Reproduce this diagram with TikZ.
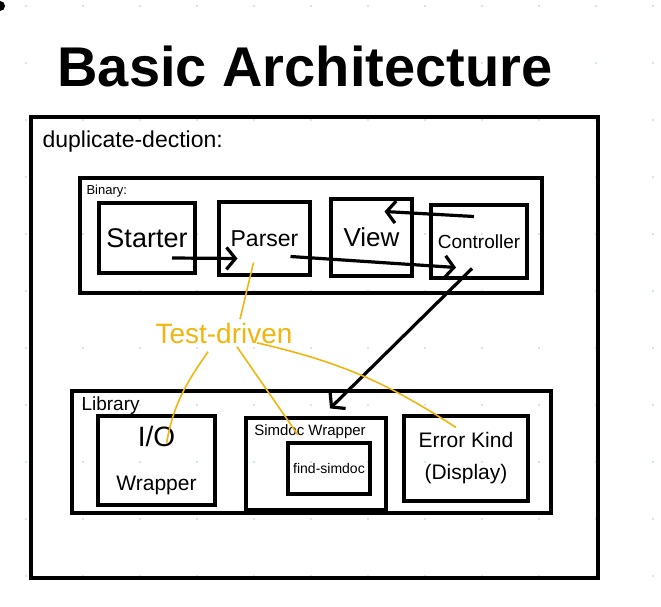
\documentclass[tikz,border=0pt]{standalone}
\usepackage{fontspec}
\setmainfont{Liberation Sans}
\usetikzlibrary{arrows.meta}
\definecolor{naranja}{HTML}{F2B50F}
\definecolor{punto}{HTML}{D3E2F4}

\begin{document}
\begin{tikzpicture}[x=1pt,y=-1pt,
    caja/.style={draw,line width=3.2pt,inner sep=0pt},
    flecha/.style={line width=3.2pt,-{Straight Barb[length=9pt,width=22pt]}},
    prueba/.style={draw=naranja,line width=1.6pt}]

    \def\tam#1{\fontsize{#1}{#1}\selectfont}

    % Fondo y retícula de puntos
    \useasboundingbox (0,0) rectangle (661,607);
    \foreach \i in {0,...,11}
      \foreach \j in {0,...,10}
        \fill[punto] ({26+57*\i},{6+57*\j}) circle (1.3);
    \fill (0,6) circle (5);

    % Título
    \node[font=\bfseries\tam{56}] (titulo) at (305,66) {Basic Architecture};

    % Caja exterior
    \node[caja,minimum width=567pt,minimum height=461pt] (exterior) at (314.5,347.5) {};
    \node[anchor=west,font=\tam{23}] (nombre) at (39,142) {duplicate-dection:};

    % Binario
    \node[caja,minimum width=462pt,minimum height=115pt] (binario) at (311,235.5) {};
    \node[anchor=west,font=\tam{13}] (tbinario) at (83,191) {Binary:};
    \node[caja,minimum width=96pt,minimum height=70pt,font=\tam{27}] (starter) at (147,238) {Starter};
    \node[caja,minimum width=91pt,minimum height=73pt,font=\tam{23}] (parser) at (264.5,238.5) {Parser};
    \node[caja,minimum width=81pt,minimum height=77pt,font=\tam{26}] (view) at (371.5,237.5) {View};
    \node[caja,minimum width=96pt,minimum height=73pt,font=\tam{19}] (controller) at (479,241.5) {Controller};

    % Flechas del binario
    \draw[flecha] ([shift={(25,20)}]starter.center) -- ([shift={(-27,20)}]parser.center);
    \draw[flecha] ([shift={(26,18)}]parser.center) -- ([shift={(-23,26)}]controller.center);
    \draw[flecha] ([shift={(-5,-25)}]controller.center) -- ([shift={(13,-26)}]view.center);

    % Biblioteca
    \node[caja,minimum width=479pt,minimum height=122pt] (biblioteca) at (311.5,452) {};
    \node[anchor=west,font=\tam{19}] (tbiblioteca) at (78,406) {Library};
    \node[caja,minimum width=117pt,minimum height=89pt,align=center,font=\fontsize{21}{44}\selectfont] (io) at (156.5,460.5) {{\fontsize{28}{28}\selectfont I/O}\\Wrapper};
    \node[caja,minimum width=140pt,minimum height=92pt] (simdoc) at (316,464) {};
    \node[font=\tam{15}] (tsimdoc) at (310,432) {Simdoc Wrapper};
    \node[caja,minimum width=82pt,minimum height=51pt,font=\tam{14}] (find) at (329,468.5) {find-simdoc};
    \node[caja,minimum width=124pt,minimum height=85pt,align=center,font=\fontsize{21}{32}\selectfont] (error) at (466,458.5) {Error Kind\\(Display)};

    % Controlador hacia la biblioteca
    \draw[flecha] ([shift={(-7,27)}]controller.center) -- ([shift={(14,-8)}]simdoc.north);

    % Guiado por pruebas
    \node[text=naranja,font=\tam{28}] (test) at (224,333) {Test-driven};
    \draw[prueba] ([shift={(-11,24)}]parser.center) -- ([xshift=16]test.north);
    \draw[prueba] ([shift={(-16,5)}]test.south) to[out=-125,in=80] ([shift={(10,-17)}]io.center);
    \draw[prueba] ([shift={(13,0)}]test.south) -- ([shift={(-18,-29)}]simdoc.center);
    \draw[prueba] ([shift={(33,-4)}]test.south) to[bend left=10] ([shift={(-10,-31)}]error.center);

\end{tikzpicture}
\end{document}
